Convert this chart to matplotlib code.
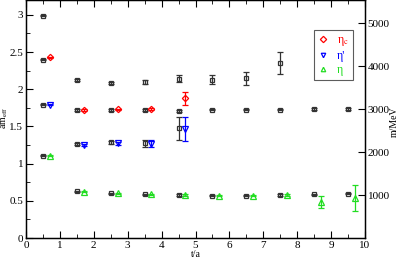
import matplotlib
matplotlib.use("Agg")
import matplotlib.pyplot as plt
from matplotlib.ticker import MultipleLocator, FuncFormatter
from matplotlib.lines import Line2D

plt.rcParams['font.family'] = ['Liberation Serif', 'DejaVu Serif']
plt.rcParams['mathtext.fontset'] = 'stix'

# black (combined) effective masses
t_black = [0.5, 1.5, 2.5, 3.5, 4.5, 5.5, 6.5, 7.5, 8.5, 9.5]
exc_t = [0.5, 1.5, 2.5, 3.5, 4.5, 5.5, 6.5, 7.5]
exc_m = [2.99, 2.125, 2.08, 2.10, 2.14, 2.125, 2.148, 2.355]
exc_e = [0.01, 0.015, 0.015, 0.025, 0.045, 0.06, 0.085, 0.15]
etac_blk_m = [2.40, 1.722, 1.722, 1.722, 1.709, 1.726, 1.726, 1.726, 1.735, 1.735]
etac_blk_e = [0.01, 0.01, 0.01, 0.01, 0.01, 0.01, 0.01, 0.01, 0.01, 0.01]
etap_blk_t = [0.5, 1.5, 2.5, 3.5, 4.5]
etap_blk_m = [1.793, 1.265, 1.287, 1.272, 1.473]
etap_blk_e = [0.01, 0.01, 0.02, 0.045, 0.16]
eta_blk_m = [1.108, 0.628, 0.601, 0.588, 0.578, 0.569, 0.569, 0.578, 0.588, 0.596]
eta_blk_e = [0.01, 0.01, 0.01, 0.01, 0.01, 0.01, 0.01, 0.01, 0.01, 0.01]

# coloured single-channel masses
etac_t = [0.7, 1.7, 2.7, 3.7, 4.7]
etac_m = [2.43, 1.72, 1.728, 1.73, 1.879]
etac_e = [0.01, 0.01, 0.01, 0.015, 0.09]
etap_t = [0.7, 1.7, 2.7, 3.7, 4.7]
etap_m = [1.793, 1.255, 1.272, 1.27, 1.47]
etap_e = [0.01, 0.015, 0.02, 0.05, 0.16]
eta_t = [0.7, 1.7, 2.7, 3.7, 4.7, 5.7, 6.7, 7.7, 8.7, 9.7]
eta_m = [1.108, 0.625, 0.60, 0.588, 0.578, 0.569, 0.569, 0.578, 0.487, 0.538]
eta_e = [0.01, 0.01, 0.01, 0.01, 0.01, 0.01, 0.01, 0.01, 0.08, 0.18]

labels = ['η$_{\\rm c}$', "η'", 'η']
colors = ['red', 'blue', '#22dd22']
markers = ['D', 'v', '^']
MEV_PER_UNIT = 1730.0

fig = plt.figure(figsize=(3.99, 2.58), dpi=100)
ax = fig.add_axes([26/399, 20/258, 339/399, 238/258])

blk = dict(fmt='s', color='#333333', mfc='none', ms=3.5, mew=0.9, elinewidth=0.9, capsize=2.5, capthick=0.9)
ax.errorbar(exc_t, exc_m, yerr=exc_e, **blk)
ax.errorbar(t_black, etac_blk_m, yerr=etac_blk_e, **blk)
ax.errorbar(etap_blk_t, etap_blk_m, yerr=etap_blk_e, **blk)
ax.errorbar(t_black, eta_blk_m, yerr=eta_blk_e, **blk)

col = dict(mfc='none', mew=0.9, elinewidth=0.9, capsize=2.5, capthick=0.9)
ax.errorbar(etac_t, etac_m, yerr=etac_e, fmt=markers[0], color=colors[0], ms=3.2, **col)
ax.errorbar(etap_t, etap_m, yerr=etap_e, fmt=markers[1], color=colors[1], ms=4, **col)
ax.errorbar(eta_t, eta_m, yerr=eta_e, fmt=markers[2], color=colors[2], ms=4, **col)

ax.set_xlim(0, 10)
ax.set_ylim(0, 3.2)
ax.xaxis.set_major_locator(MultipleLocator(1))
ax.xaxis.set_minor_locator(MultipleLocator(0.5))
ax.yaxis.set_major_locator(MultipleLocator(0.5))
ax.yaxis.set_minor_locator(MultipleLocator(0.25))
fmt = FuncFormatter(lambda v, p: ('%g' % v))
ax.yaxis.set_major_formatter(fmt)
ax.tick_params(which='both', direction='in', top=True, right=False, labelsize=8, pad=2)
ax.tick_params(which='major', length=5)
ax.tick_params(which='minor', length=3)
for s in ax.spines.values():
    s.set_linewidth(1.0)
ax.set_xlabel('t/a', fontsize=7, labelpad=0)

ax2 = ax.twinx()
ax2.set_ylim(0, 3.2 * MEV_PER_UNIT)
ax2.set_yticks([1000, 2000, 3000, 4000, 5000])
ax2.tick_params(direction='in', length=5, labelsize=8, pad=2)

fig.text(5/399, 1 - 118/258, r'am$_{\rm eff}$', fontsize=7, rotation=90, ha='center', va='center')
fig.text(394/399, 1 - 122/258, 'm/MeV', fontsize=7, rotation=90, ha='center', va='center')

handles = [Line2D([], [], ls='none', marker=m, color=c, mfc='none', ms=3.2, mew=0.9)
           for m, c in zip(markers, colors)]
leg = ax.legend(handles, labels, loc='upper left', bbox_to_anchor=(288/339, 1 - 30/238), fontsize=8.5,
                frameon=True, fancybox=False, edgecolor='#333333', handlelength=0.8,
                handletextpad=0.8, borderpad=0.35, labelspacing=0.15, borderaxespad=0)
leg.get_frame().set_linewidth(0.8)
for txt, c in zip(leg.get_texts(), colors):
    txt.set_color(c)

fig.savefig('out.png', dpi=100)
